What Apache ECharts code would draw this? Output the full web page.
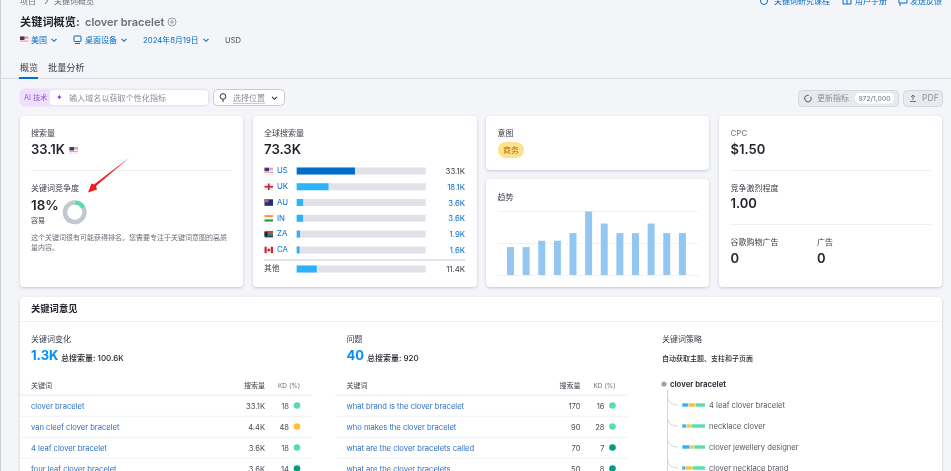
<!DOCTYPE html>
<html>
  <head>
    <meta charset="UTF-8" />
    <title>关键词概览</title>
    <script src="https://cdn.jsdelivr.net/npm/echarts@6/dist/echarts.min.js"></script>
    <style>
      html, body { margin: 0; padding: 0; background: #f4f5f9; overflow: hidden; }
    </style>
  </head>
  <body>
    <div id="page" style="width: 951px; height: 471px"></div>
  </body>
  <script>
// ---- data ----
const countryCodes = ['US', 'UK', 'AU', 'IN', 'ZA', 'CA'];
const countryVolumes = [33.1, 18.1, 3.6, 3.6, 1.9, 1.6];
const countryLabels = ['33.1K', '18.1K', '3.6K', '3.6K', '1.9K', '1.6K'];
const otherName = '其他';
const otherVolume = 11.4;
const otherLabel = '11.4K';
const globalVolume = 73.3;

const kdValue = 18;

const trendValues = [44, 44, 54, 54, 66, 100, 81, 66, 66, 81, 66, 66];

const variationNames = ['clover bracelet', 'van cleef clover bracelet', '4 leaf clover bracelet', 'four leaf clover bracelet'];
const variationVolumes = ['33.1K', '4.4K', '3.6K', '3.6K'];
const variationKd = [18, 48, 18, 14];

const questionNames = ['what brand is the clover bracelet', 'who makes the clover bracelet', 'what are the clover bracelets called', 'what are the clover bracelets'];
const questionVolumes = ['170', '90', '70', '50'];
const questionKd = [16, 28, 7, 8];

const clusterNames = ['4 leaf clover bracelet', 'necklace clover', 'clover jewellery designer', 'clover necklace brand'];
const clusterBlue = [20, 13, 24, 11];
const clusterYellow = [20, 14, 12, 20];
const clusterGreen = [30, 43, 34, 39];

// ---- small drawing helpers for the page chrome ----
const FONT = 'Inter, "Noto Sans CJK SC", sans-serif';
const BLUE = '#006dca';
const INK = '#1f2229';
const GREY = '#6c6e79';
let els = [];

function T(text, x, y, size, fill, weight, align) {
  els.push({
    type: 'text', x: x, y: y + 0.8, silent: true,
    style: { text: text, fill: fill || INK, align: align || 'left', verticalAlign: 'middle',
      font: (weight || 400) + ' ' + size + 'px ' + FONT }
  });
}
function R(x, y, w, h, fill, r, stroke, shadow) {
  let style = { fill: fill, stroke: stroke || null, lineWidth: stroke ? 1 : 0 };
  if (shadow) {
    style.shadowBlur = 3; style.shadowColor = 'rgba(40,50,80,0.22)'; style.shadowOffsetY = 1;
  }
  els.push({ type: 'rect', silent: true, shape: { x: x, y: y, width: w, height: h, r: r || 0 }, style: style });
}
function L(points, stroke, width) {
  els.push({ type: 'polyline', silent: true, shape: { points: points },
    style: { fill: null, stroke: stroke, lineWidth: width || 1 } });
}
function C(cx, cy, r, fill, stroke) {
  els.push({ type: 'circle', silent: true, shape: { cx: cx, cy: cy, r: r },
    style: { fill: fill || null, stroke: stroke || null, lineWidth: stroke ? 1 : 0 } });
}
function chevron(x, y, color) {
  L([[x - 2.5, y - 1.2], [x, y + 1.3], [x + 2.5, y - 1.2]], color, 1.1);
}
function flag(code, x, y) {
  const w = 8.5, h = 6.5;
  if (code == 'US') {
    R(x, y, w, h, '#e8a3a8');
    R(x, y + 2.6, w, 1.3, '#fff');
    R(x, y + 5.2, w, 1.3, '#fff');
    R(x, y, 4.5, 3.5, '#3c3b7a');
  } else if (code == 'UK') {
    R(x, y, w, h, '#e9ecf5');
    R(x + 3.4, y, 1.7, h, '#c9283a');
    R(x, y + 2.4, w, 1.7, '#c9283a');
  } else if (code == 'AU') {
    R(x, y, w, h, '#1f2f7c');
    R(x, y, 4, 3, '#c55a6b');
  } else if (code == 'IN') {
    R(x, y, w, 2.2, '#f39a3c');
    R(x, y + 2.2, w, 2.1, '#f5f5f5');
    R(x, y + 4.3, w, 2.2, '#2c9a3e');
  } else if (code == 'ZA') {
    R(x, y, w, 2.2, '#c9453a');
    R(x, y + 2.2, w, 2.1, '#1c8a55');
    R(x, y + 4.3, w, 2.2, '#28408f');
    R(x, y + 1.2, 3, 4, '#20242c');
  } else if (code == 'CA') {
    R(x, y, w, h, '#f7f7f7');
    R(x, y, 2.2, h, '#d8232f');
    R(x + 6.3, y, 2.2, h, '#d8232f');
    C(x + 4.25, y + 3.25, 1.5, '#d8232f');
  }
}

// ---- header ----
R(0, 0, 1, 471, '#cfd1d8');
T('项目', 20, 0.5, 8, GREY);
L([[45, -2], [47.5, 1], [45, 4]], GREY, 1);
T('关键词概览', 54, 0.5, 8, GREY);
C(764, 1, 3.5, null, BLUE);
T('关键词研究课程', 774, 0.5, 8, BLUE);
R(843, -3, 8, 7, null, 0, BLUE);
L([[847, -3], [847, 4]], BLUE, 1);
T('用户手册', 855, 0.5, 8, BLUE);
R(899, -3, 8, 6, null, 0, BLUE);
L([[900, 3], [900, 6]], BLUE, 1);
T('发送反馈', 910, 0.5, 8, BLUE);

T('关键词概览:', 20, 21.5, 11.2, INK, 700);
T('clover bracelet', 85, 21.5, 11, GREY, 600);
C(172, 22, 4, null, '#9b9da6');
L([[169.8, 22], [174.2, 22]], '#9b9da6', 1);
L([[172, 19.8], [172, 24.2]], '#9b9da6', 1);

flag('US', 20, 36.5);
T('美国', 31, 40, 8, BLUE);
chevron(54, 40, BLUE);
R(74, 36, 7, 5.5, null, 0.5, BLUE);
L([[75, 43.5], [80, 43.5]], BLUE, 1);
T('桌面设备', 85, 40, 8, BLUE);
chevron(124, 40, BLUE);
T('2024年8月19日', 143, 40, 7.8, BLUE);
chevron(206, 40, BLUE);
T('USD', 225, 39.5, 7.6, '#4a4d57');

T('概览', 20, 67, 9, '#3a3d46');
T('批量分析', 48, 67, 9.2, '#3a3d46');
R(0, 78, 951, 1, '#d9dbe3');
R(19, 77, 19, 2, BLUE);

// ---- toolbar ----
R(19.5, 88.5, 190, 18, '#efdffc', 5);
T('AI 技术', 24, 97, 7.2, '#8a5ad8');
R(50, 90, 158, 15, '#ffffff', 3);
T('✦', 59, 97, 8, '#8a3fe0', 400, 'center');
T('输入域名以获取个性化指标', 69, 97.5, 8.1, '#8b8e99');
R(213.5, 89.5, 71, 16, '#ffffff', 4, '#c9cbd4');
C(223, 96.5, 2.8, null, '#2b2e38');
L([[223, 99.5], [223, 102]], '#2b2e38', 1);
T('选择位置', 233, 97.5, 8, '#8b8e99');
R(233, 103, 32, 0.6, '#a5a7b0');
chevron(274.5, 98, '#2b2e38');

R(798.5, 90.5, 100, 16, '#e9eaf0', 4, '#d5d7df');
els.push({ type: 'arc', silent: true, shape: { cx: 808, cy: 98.5, r: 3.2, startAngle: -0.6, endAngle: 5 },
  style: { fill: null, stroke: '#6c6e79', lineWidth: 1.1 } });
T('更新指标', 817, 98, 8, '#8b8e99');
R(855, 93, 39, 10.5, '#ffffff', 5);
T('972/1,000', 874.5, 98, 6.8, '#6c6e79', 400, 'center');
R(903.5, 90.5, 39, 16, '#e9eaf0', 4, '#d5d7df');
L([[910, 101.5], [916, 101.5]], '#6c6e79', 1);
L([[913, 100], [913, 95]], '#6c6e79', 1);
L([[911, 97], [913, 95], [915, 97]], '#6c6e79', 1);
T('PDF', 922, 98, 8.6, '#8b8e99');

// ---- cards ----
R(20, 116, 223, 171, '#ffffff', 4, null, true);
R(253, 116, 224, 171, '#ffffff', 4, null, true);
R(486, 116, 223, 54, '#ffffff', 4, null, true);
R(486, 179, 223, 108, '#ffffff', 4, null, true);
R(719, 116, 223, 171, '#ffffff', 4, null, true);
R(20, 297, 922, 190, '#ffffff', 4, null, true);

// keyword volume + difficulty
T('搜索量', 31, 133, 8, '#3a3d46');
T('33.1K', 31, 149.5, 13, INK, 600);
flag('US', 69.5, 147);
R(31, 170, 201, 1, '#eef0f4');
T('关键词竞争度', 31, 187.5, 8, '#3a3d46');
T(kdValue + '%', 31, 205.5, 13.4, INK, 600);
T('容易', 31, 220.5, 7, '#3a3d46');
T('这个关键词很有可能获得排名。您需要专注于关键词意图的高质', 31, 237.5, 7, GREY);
T('量内容。', 31, 247, 7, GREY);
// hand drawn red arrow on the screenshot
els.push({ type: 'polygon', silent: true,
  shape: { points: [[129.5, 157.5], [96, 186], [97, 189.5], [88, 192.5], [91.5, 183.5], [94, 184.5]] },
  style: { fill: '#f01c1c' } });

// global volume
T('全球搜索量', 264, 133, 8, '#3a3d46');
T(globalVolume + 'K', 264, 149.5, 13.2, INK, 600);
countryCodes.forEach(function (code, i) {
  let y = 170.9 + 15.8 * i;
  flag(code, 264.5, y - 3.2);
  T(countryLabels[i], 465, y, 7.8, i == 0 ? '#3a3d46' : BLUE, 400, 'right');
});
R(264, 259.5, 201, 1, '#c9cbd4');
T(otherLabel, 465, 269, 7.8, '#3a3d46', 400, 'right');

// intent + trend
T('意图', 497.5, 133, 8, '#3a3d46');
R(498, 142, 26, 16, '#fde28d', 8);
T('商务', 511, 149.5, 8, '#b36b00', 400, 'center');
T('趋势', 497.5, 196.5, 8, '#3a3d46');

// cpc column
T('CPC', 730.5, 133, 8, GREY);
T('$1.50', 730.5, 149.5, 13, INK, 600);
R(730, 170, 201, 1, '#eef0f4');
T('竞争激烈程度', 730.5, 187.5, 8, '#3a3d46');
T('1.00', 730.5, 203.5, 13, INK, 600);
R(730, 224, 201, 1, '#eef0f4');
T('谷歌购物广告', 730.5, 241.5, 8, '#3a3d46');
T('广告', 817, 241.5, 8, '#3a3d46');
T('0', 730.5, 258, 13, INK, 600);
T('0', 817, 258, 13, INK, 600);

// ---- keyword ideas ----
T('关键词意见', 31, 308.5, 9.3, INK, 600);
R(20, 321, 922, 1, '#eef0f4');

function kdColor(kd) {
  if (kd < 15) return '#009f81';
  if (kd < 30) return '#59ddaa';
  return '#ffc02e';
}
function keywordTable(x, title, bigNumber, bigWidth, total, names, volumes, kds) {
  T(title, x, 339, 8, '#3a3d46');
  T(bigNumber, x, 355.5, 13, '#008ff8', 700);
  T('总搜索量: ' + total, x + bigWidth, 358, 8, INK, 500);
  T('关键词', x, 385, 7, '#3a3d46');
  T('搜索量', x + 234, 385, 7, '#3a3d46', 400, 'right');
  T('KD (%)', x + 269, 385, 6.5, GREY, 400, 'right');
  R(x - 11, 394.5, 292, 1.6, '#f0f1f5');
  names.forEach(function (name, i) {
    let y = 406 + 21 * i;
    T(name, x, y, 7.6, '#2e6fc4');
    T(volumes[i], x + 234, y, 7.6, '#4a4d57', 400, 'right');
    T(String(kds[i]), x + 258, y, 7.6, '#4a4d57', 400, 'right');
    C(x + 266, y - 0.5, 3.3, kdColor(kds[i]));
    if (i < 3) R(x - 11, y + 9.7, 292, 1, '#f0f1f5');
  });
}
keywordTable(31, '关键词变化', '1.3K', 30, '100.6K', variationNames, variationVolumes, variationKd);
keywordTable(346.5, '问题', '40', 20.5, '920', questionNames, questionVolumes, questionKd);

T('关键词策略', 662, 339, 8, '#3a3d46');
T('自动获取主题、支柱和子页面', 662, 358, 7, INK, 500);
C(664, 384, 2.6, '#a0a3ad');
T('clover bracelet', 670, 384, 7.7, '#33363f', 700);
L([[667.5, 390], [667.5, 471]], '#d4d6dd', 1);
clusterNames.forEach(function (name, i) {
  let y = 405 + 21 * i;
  els.push({ type: 'bezierCurve', silent: true,
    shape: { x1: 667.5, y1: y - 9, x2: 678, y2: y, cpx1: 668, cpy1: y - 2, cpx2: 672, cpy2: y },
    style: { fill: null, stroke: '#d4d6dd', lineWidth: 1 } });
  T(name, 709, y, 7.6, '#55585f');
});

// ---- the charts themselves ----
let myChart = echarts.init(document.getElementById('page'));

function countryColor(params) {
  return params.dataIndex == 0 ? BLUE : '#2bb3ff';
}
function clusterSeries(values, color) {
  return {
    type: 'bar', stack: 'cluster', xAxisIndex: 3, yAxisIndex: 3, barWidth: 4, silent: true,
    itemStyle: { color: color, borderColor: '#fff', borderWidth: 0.3 },
    data: values
  };
}
let hiddenValue = { type: 'value', show: false };

myChart.setOption({
  animation: false,
  backgroundColor: '#f4f5f9',
  graphic: { elements: els },
  grid: [
    { left: 296.7, top: 163, width: 129, height: 94.8, outerBoundsMode: 'none' },
    { left: 296.7, top: 261.1, width: 129, height: 15.8, outerBoundsMode: 'none' },
    { left: 498, top: 211.5, width: 200, height: 63.5, outerBoundsMode: 'none' },
    { left: 682, top: 394.5, width: 23.3, height: 84, outerBoundsMode: 'none' }
  ],
  xAxis: [
    Object.assign({ gridIndex: 0, min: 0, max: globalVolume }, hiddenValue),
    Object.assign({ gridIndex: 1, min: 0, max: globalVolume }, hiddenValue),
    {
      type: 'value', gridIndex: 2, min: -0.8, max: 12,
      splitLine: { show: false },
      axisTick: { show: false },
      axisLabel: { show: false },
      axisLine: { show: true, lineStyle: { color: '#d9dbe3', width: 1 } }
    },
    Object.assign({ gridIndex: 3, min: 0, max: 70 }, hiddenValue)
  ],
  yAxis: [
    {
      type: 'category', gridIndex: 0, inverse: true, data: countryCodes,
      axisLine: { show: false },
      axisTick: { show: false },
      axisLabel: { align: 'left', margin: 19.7, color: BLUE, fontSize: 7.8, fontFamily: FONT, padding: [1.5, 0, 0, 0] }
    },
    {
      type: 'category', gridIndex: 1, data: [otherName],
      axisLine: { show: false },
      axisTick: { show: false },
      axisLabel: { align: 'left', margin: 32.7, color: '#3a3d46', fontSize: 7.8, fontFamily: FONT, padding: [1.5, 0, 0, 0] }
    },
    {
      type: 'value', gridIndex: 2, min: 0, max: 100, interval: 50, z: 1,
      axisLine: { show: false },
      axisTick: { show: false },
      axisLabel: { show: false },
      splitLine: { lineStyle: { color: '#f1f2f5', width: 1 } }
    },
    {
      type: 'category', gridIndex: 3, inverse: true, show: false, data: clusterNames
    }
  ],
  series: [
    {
      type: 'pie', center: [74.7, 212.3], radius: [7.5, 12], startAngle: 90, silent: true,
      label: { show: false },
      labelLine: { show: false },
      data: [
        { value: kdValue, itemStyle: { color: '#59ddaa' } },
        { value: 100 - kdValue, itemStyle: { color: '#c4c7cf' } }
      ]
    },
    {
      type: 'bar', xAxisIndex: 0, yAxisIndex: 0, barWidth: 7, silent: true,
      showBackground: true, backgroundStyle: { color: '#e0e1e9' },
      itemStyle: { color: countryColor },
      data: countryVolumes
    },
    {
      type: 'bar', xAxisIndex: 1, yAxisIndex: 1, barWidth: 7, silent: true,
      showBackground: true, backgroundStyle: { color: '#e0e1e9' },
      itemStyle: { color: '#2bb3ff' },
      data: [otherVolume]
    },
    {
      type: 'bar', xAxisIndex: 2, yAxisIndex: 2, barWidth: 7, silent: true,
      itemStyle: { color: '#93c7f1' },
      data: trendValues.map(function (v, i) { return [i, v]; })
    },
    clusterSeries(clusterBlue, '#2bb3ff'),
    clusterSeries(clusterYellow, '#ffc02e'),
    clusterSeries(clusterGreen, '#59ddaa')
  ]
});
  </script>
</html>
